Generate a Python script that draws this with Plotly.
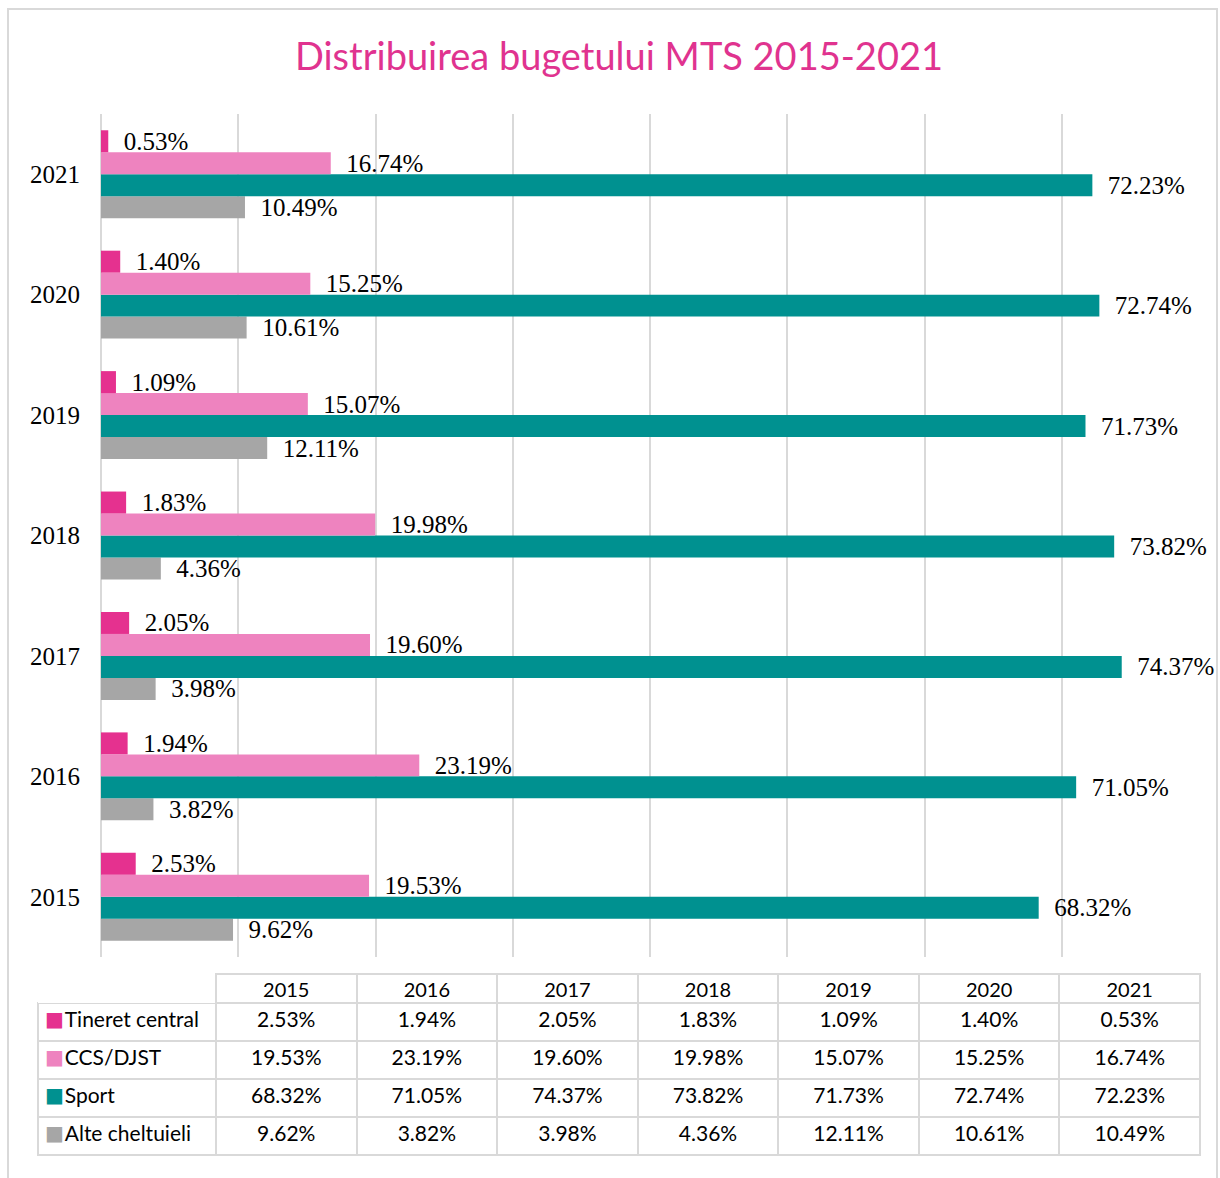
import plotly.graph_objects as go

# ---------------- data ----------------
years = ["2015", "2016", "2017", "2018", "2019", "2020", "2021"]
series_names = ["Tineret central", "CCS/DJST", "Sport", "Alte cheltuieli"]
tineret = [2.53, 1.94, 2.05, 1.83, 1.09, 1.40, 0.53]
ccs = [19.53, 23.19, 19.60, 19.98, 15.07, 15.25, 16.74]
sport = [68.32, 71.05, 74.37, 73.82, 71.73, 72.74, 72.23]
alte = [9.62, 3.82, 3.98, 4.36, 12.11, 10.61, 10.49]
title_text = "Distribuirea bugetului MTS 2015-2021"

colors = ["#E5318F", "#EE83BF", "#009190", "#A6A6A6"]
values = [tineret, ccs, sport, alte]

W, H = 1220, 1178
def px_x(x): return x / W
def px_y(y): return 1 - y / H

fig = go.Figure()

# bars: add in reverse so that Tineret is at top of each group
for name, vals, col in reversed(list(zip(series_names, values, colors))):
    fig.add_trace(go.Bar(
        y=years, x=vals, name=name, orientation="h",
        marker=dict(color=col, line=dict(width=0)),
        texttemplate="\u00a0\u00a0%{x:.2f}%",
        textposition="outside",
        textfont=dict(family="Liberation Serif", size=25, color="#000000"),
        constraintext="none",
        cliponaxis=False,
        showlegend=False,
        hoverinfo="skip",
    ))

grid = "#D9D9D9"
tbl_top, tbl_bottom = 974, 1160

# data table (non-breaking spaces keep each name on one line)
cols = [["\u00a0\u00a0\u00a0\u2009" + n.replace(" ", "\u00a0") for n in series_names]]
for i in range(len(years)):
    cols.append([f"{v[i]:.2f}%" for v in values])

fig.add_trace(go.Table(
    domain=dict(x=[px_x(38), px_x(1200)], y=[px_y(tbl_bottom), px_y(tbl_top)]),
    columnwidth=[178] + [140.6] * 7,
    header=dict(
        values=[""] + years,
        height=29,
        align="center",
        fill=dict(color="white"),
        line=dict(color=["rgba(0,0,0,0)"] + [grid] * 7, width=2),
        font=dict(family="Lato", size=20, color="#000000"),
    ),
    cells=dict(
        values=cols,
        height=38,
        align=["left"] + ["center"] * 7,
        fill=dict(color="white"),
        line=dict(color=grid, width=2),
        font=dict(family="Lato", size=21, color="#000000"),
    ),
))

# legend keys (coloured squares) overlaid on the first table column
fig.add_trace(go.Table(
    domain=dict(x=[px_x(37), px_x(65)], y=[px_y(tbl_bottom), px_y(tbl_top)]),
    columnwidth=[28],
    header=dict(values=[""], height=29, fill=dict(color="rgba(0,0,0,0)"),
                line=dict(color="rgba(0,0,0,0)", width=0),
                font=dict(family="Lato", size=20)),
    cells=dict(values=[["\u25A0"] * len(series_names)], height=38, align="left",
               fill=dict(color="rgba(0,0,0,0)"),
               line=dict(color="rgba(0,0,0,0)", width=0),
               font=dict(family="DejaVu Sans", size=20, color=[colors])),
))

fig.update_layout(
    width=W, height=H,
    margin=dict(l=0, r=0, t=0, b=0),
    paper_bgcolor="white", plot_bgcolor="white",
    barmode="group", bargap=0.27, bargroupgap=0,
    title=dict(text=title_text, x=619 / W, xanchor="center", y=px_y(57), yanchor="middle",
               font=dict(family="Lato", size=38, color="#E0338F")),
    xaxis=dict(domain=[px_x(101), px_x(1199)], range=[0, 80], dtick=10,
               showticklabels=False, showgrid=True, gridcolor=grid, gridwidth=2,
               zeroline=True, zerolinecolor=grid, zerolinewidth=2,
               showline=False, fixedrange=True),
    yaxis=dict(domain=[px_y(957), px_y(114)], type="category",
               categoryorder="array", categoryarray=years,
               showgrid=False, zeroline=False, showline=False, ticks="",
               ticklabelstandoff=20,
               tickfont=dict(family="Liberation Serif", size=25, color="#000000"),
               fixedrange=True),
    shapes=[dict(type="rect", xref="paper", yref="paper",
                 x0=px_x(8), x1=px_x(1217), y0=px_y(1190), y1=px_y(9),
                 line=dict(color=grid, width=2), fillcolor="rgba(0,0,0,0)", layer="below")],
)

fig.write_html("out.html", config={"displayModeBar": False},
               post_script="document.body.style.margin='0';")
